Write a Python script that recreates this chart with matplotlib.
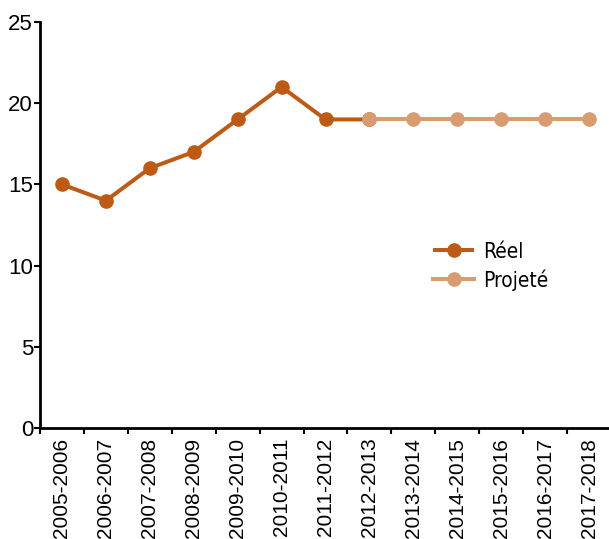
import matplotlib
matplotlib.use("Agg")
import matplotlib.pyplot as plt
import numpy as np

# Données
annees = ['2005-2006', '2006-2007', '2007-2008', '2008-2009', '2009-2010',
          '2010-2011', '2011-2012', '2012-2013', '2013-2014', '2014-2015',
          '2015-2016', '2016-2017', '2017-2018']
reel = [15, 14, 16, 17, 19, 21, 19, 19]
projete = [19, 19, 19, 19, 19, 19]

couleur_reel = '#BD5A16'
couleur_proj = '#D79C72'

plt.rcParams['font.family'] = ['Liberation Sans', 'DejaVu Sans']

fig = plt.figure(figsize=(6.09, 5.39), dpi=100)
ax = fig.add_axes([40 / 609, 1 - 428 / 539, 571 / 609, 406 / 539])

x = np.arange(len(annees))
ax.plot(x[:len(reel)], reel, color=couleur_reel, lw=2.9, marker='o', ms=9.5,
        label='Réel', solid_capstyle='butt', zorder=3)
ax.plot(x[len(annees) - len(projete):], projete, color=couleur_proj, lw=2.9,
        marker='o', ms=9.5, label='Projeté', zorder=4)

ax.set_xlim(-0.5, len(annees) - 0.5)
ax.set_ylim(0, 25)
ax.set_yticks(range(0, 26, 5))
ax.set_xticks(x)
ax.set_xticklabels(annees, rotation=90, fontsize=15)
ax.set_xticks(np.arange(-0.5, len(annees), 1), minor=True)
ax.tick_params(axis='x', which='major', length=0, pad=7)
ax.tick_params(axis='x', which='minor', length=4, width=1.5, direction='out')
ax.tick_params(axis='y', labelsize=16, length=4, width=1.5, pad=1)

for s in ['top', 'right']:
    ax.spines[s].set_visible(False)
for s in ['left', 'bottom']:
    ax.spines[s].set_linewidth(2)

ax.legend(loc='upper left', bbox_to_anchor=(0.655, 0.505), frameon=False,
          prop={'family': 'DejaVu Sans', 'stretch': 'condensed', 'size': 15},
          handlelength=2.0, labelspacing=0.35, handletextpad=0.4)

fig.savefig('out.png', dpi=100)
